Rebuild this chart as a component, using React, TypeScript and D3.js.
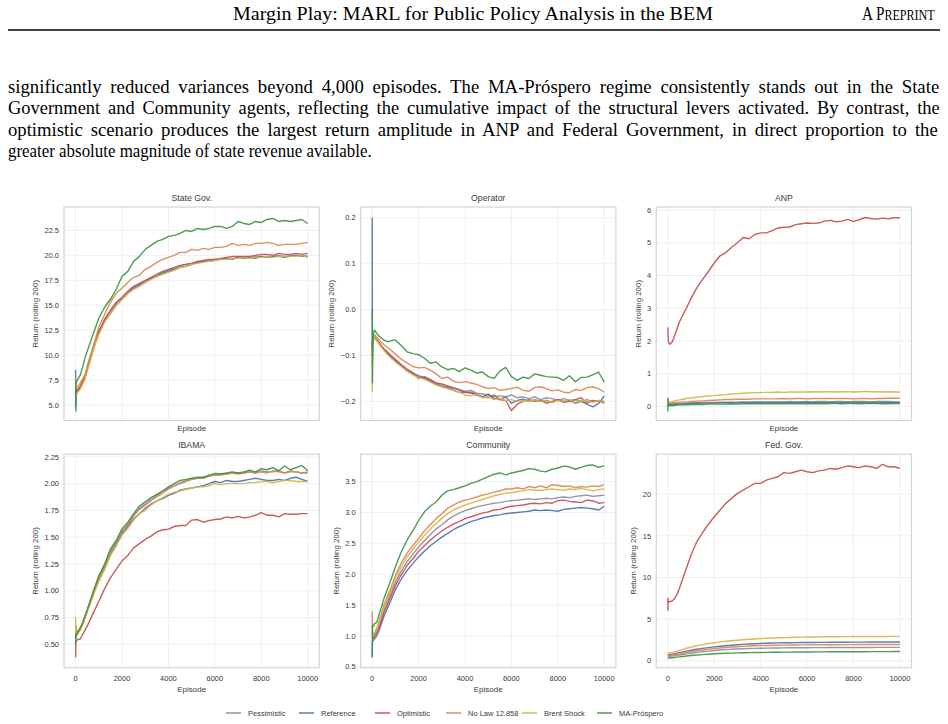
import React from 'react';
import * as d3 from 'd3';

// episodes at which each rolling return is sampled
const EPISODES = [
  0, 10, 30, 60, 100, 200, 300, 400, 500, 650, 800, 1000,
  1250, 1500, 1750, 2000, 2250, 2500, 2750, 3000, 3250, 3500, 3750, 4000,
  4250, 4500, 4750, 5000, 5250, 5500, 5750, 6000, 6250, 6500, 6750, 7000,
  7250, 7500, 7750, 8000, 8250, 8500, 8750, 9000, 9250, 9500, 9750, 10000,
];

const SCENARIOS = ['Pessimistic', 'Reference', 'Optimistic', 'No Law 12.858', 'Brent Shock', 'MA-Próspero'];
const COLORS = ['#8e8ca0', '#4c72b0', '#c44e52', '#dd8452', '#d6b445', '#3b9544'];
const X_TICKS = [0, 2000, 4000, 6000, 8000, 10000];

// series order in every panel follows SCENARIOS
const STATE_GOV: number[][] = [
  [6.3, 6.0, 6.2, 6.4, 6.5, 6.8, 7.3, 7.8, 8.6, 9.8, 11.0, 12.3,
   13.5, 14.4, 15.2, 15.7, 16.3, 16.8, 17.1, 17.4, 17.7, 18.0, 18.3, 18.5,
   18.7, 18.9, 19.1, 19.2, 19.3, 19.4, 19.5, 19.6, 19.6, 19.7, 19.7, 19.8,
   19.8, 19.8, 19.9, 19.9, 19.9, 19.9, 20.0, 19.9, 20.0, 20.0, 20.0, 19.9],
  [8.5, 4.4, 6.0, 6.3, 6.4, 6.7, 7.2, 7.7, 8.5, 9.7, 10.9, 12.2,
   13.4, 14.2, 15.0, 15.6, 16.2, 16.7, 17.0, 17.3, 17.7, 17.9, 18.2, 18.4,
   18.6, 18.8, 18.9, 19.1, 19.3, 19.4, 19.4, 19.5, 19.6, 19.7, 19.6, 19.8,
   19.7, 19.8, 19.7, 19.9, 19.8, 19.9, 19.9, 19.8, 19.9, 20.0, 19.9, 19.9],
  [6.6, 6.4, 6.3, 6.5, 6.6, 6.9, 7.4, 7.9, 8.7, 9.9, 11.1, 12.4,
   13.6, 14.5, 15.3, 15.8, 16.4, 16.9, 17.2, 17.5, 17.8, 18.1, 18.4, 18.6,
   18.8, 19.0, 19.1, 19.2, 19.4, 19.5, 19.6, 19.6, 19.7, 19.8, 19.9, 19.9,
   19.9, 19.9, 20.0, 20.1, 20.1, 20.0, 20.2, 20.1, 20.1, 20.2, 20.1, 20.2],
  [7.7, 6.6, 6.7, 6.8, 6.9, 7.2, 7.6, 8.0, 8.9, 10.1, 11.2, 12.8,
   14.1, 15.3, 16.2, 16.7, 17.3, 17.8, 18.0, 18.6, 18.9, 19.3, 19.6, 19.8,
   20.0, 20.3, 20.3, 20.6, 20.5, 20.7, 20.6, 20.8, 20.8, 20.9, 21.2, 21.0,
   21.1, 21.0, 21.2, 21.2, 21.3, 21.2, 21.0, 21.1, 21.1, 21.1, 21.2, 21.3],
  [5.9, 6.1, 6.0, 6.2, 6.3, 6.6, 7.1, 7.6, 8.4, 9.6, 10.8, 12.1,
   13.3, 14.2, 15.0, 15.6, 16.2, 16.6, 16.9, 17.3, 17.6, 17.9, 18.1, 18.3,
   18.5, 18.8, 18.9, 19.1, 19.2, 19.3, 19.4, 19.5, 19.6, 19.6, 19.7, 19.7,
   19.8, 19.7, 19.8, 19.8, 19.9, 19.8, 19.9, 19.9, 19.9, 19.9, 20.0, 19.8],
  [4.8, 7.3, 7.2, 7.4, 7.6, 8.0, 8.8, 9.7, 10.4, 11.4, 12.4, 13.7,
   14.8, 15.6, 16.6, 17.9, 18.4, 19.4, 19.9, 20.6, 21.0, 21.4, 21.6, 21.9,
   22.0, 22.2, 22.5, 22.4, 22.7, 22.6, 22.7, 22.9, 22.9, 22.7, 22.9, 23.4,
   23.2, 23.1, 23.4, 23.3, 23.6, 23.7, 23.4, 23.5, 23.4, 23.5, 23.6, 23.2],
];

const OPERATOR: number[][] = [
  [-0.09, -0.07, -0.065, -0.06, -0.062, -0.068, -0.074, -0.08, -0.086, -0.092, -0.1, -0.108,
   -0.12, -0.13, -0.138, -0.144, -0.148, -0.154, -0.16, -0.166, -0.168, -0.172, -0.174, -0.178,
   -0.176, -0.182, -0.184, -0.186, -0.19, -0.188, -0.19, -0.186, -0.192, -0.19, -0.194, -0.19,
   -0.196, -0.192, -0.194, -0.198, -0.194, -0.198, -0.196, -0.2, -0.196, -0.2, -0.198, -0.2],
  [0.2, -0.1, -0.07, -0.062, -0.06, -0.066, -0.073, -0.08, -0.087, -0.095, -0.103, -0.112,
   -0.122, -0.133, -0.14, -0.146, -0.15, -0.156, -0.163, -0.168, -0.17, -0.176, -0.18, -0.18,
   -0.182, -0.186, -0.19, -0.184, -0.194, -0.196, -0.19, -0.204, -0.198, -0.195, -0.2, -0.196,
   -0.2, -0.198, -0.202, -0.196, -0.2, -0.198, -0.204, -0.2, -0.206, -0.212, -0.205, -0.188],
  [-0.07, -0.085, -0.068, -0.062, -0.06, -0.066, -0.072, -0.079, -0.085, -0.093, -0.1, -0.11,
   -0.12, -0.13, -0.138, -0.15, -0.146, -0.152, -0.16, -0.162, -0.166, -0.17, -0.175, -0.18,
   -0.18, -0.184, -0.19, -0.192, -0.186, -0.196, -0.198, -0.22, -0.206, -0.2, -0.196, -0.2,
   -0.198, -0.204, -0.2, -0.196, -0.202, -0.2, -0.196, -0.192, -0.204, -0.198, -0.2, -0.203],
  [-0.12, -0.07, -0.06, -0.056, -0.055, -0.06, -0.066, -0.071, -0.076, -0.082, -0.088, -0.097,
   -0.108, -0.116, -0.124, -0.127, -0.126, -0.132, -0.14, -0.15, -0.147, -0.156, -0.159, -0.157,
   -0.16, -0.163, -0.168, -0.172, -0.17, -0.176, -0.174, -0.172, -0.169, -0.176, -0.178, -0.17,
   -0.168, -0.172, -0.177, -0.175, -0.18, -0.181, -0.174, -0.176, -0.17, -0.168, -0.172, -0.18],
  [-0.18, -0.08, -0.066, -0.06, -0.062, -0.068, -0.075, -0.082, -0.089, -0.097, -0.105, -0.114,
   -0.124, -0.134, -0.142, -0.148, -0.152, -0.158, -0.164, -0.168, -0.172, -0.176, -0.18, -0.186,
   -0.188, -0.184, -0.192, -0.19, -0.196, -0.194, -0.198, -0.196, -0.2, -0.198, -0.2, -0.196,
   -0.2, -0.198, -0.202, -0.198, -0.2, -0.196, -0.202, -0.198, -0.2, -0.202, -0.198, -0.205],
  [0.0, -0.16, -0.08, -0.05, -0.045, -0.052, -0.058, -0.062, -0.066, -0.07, -0.068, -0.066,
   -0.078, -0.092, -0.096, -0.098, -0.106, -0.117, -0.114, -0.125, -0.131, -0.128, -0.135, -0.127,
   -0.132, -0.138, -0.136, -0.146, -0.15, -0.134, -0.126, -0.146, -0.154, -0.147, -0.15, -0.14,
   -0.143, -0.146, -0.147, -0.148, -0.154, -0.144, -0.157, -0.148, -0.147, -0.142, -0.136, -0.158],
];

const ANP: number[][] = [
  [0.06, 0.05, 0.06, 0.07, 0.07, 0.08, 0.08, 0.09, 0.09, 0.1, 0.1, 0.11,
   0.11, 0.12, 0.12, 0.12, 0.13, 0.13, 0.13, 0.13, 0.14, 0.14, 0.14, 0.14,
   0.14, 0.14, 0.14, 0.14, 0.15, 0.14, 0.14, 0.15, 0.14, 0.15, 0.15, 0.14,
   0.15, 0.15, 0.14, 0.15, 0.15, 0.15, 0.14, 0.15, 0.15, 0.15, 0.14, 0.14],
  [0.04, 0.03, 0.04, 0.05, 0.05, 0.06, 0.06, 0.07, 0.07, 0.08, 0.08, 0.09,
   0.09, 0.1, 0.1, 0.1, 0.11, 0.11, 0.11, 0.11, 0.12, 0.11, 0.12, 0.12,
   0.12, 0.12, 0.12, 0.12, 0.12, 0.12, 0.13, 0.12, 0.12, 0.12, 0.12, 0.12,
   0.12, 0.12, 0.12, 0.12, 0.12, 0.12, 0.12, 0.12, 0.12, 0.12, 0.12, 0.11],
  [2.42, 2.15, 1.98, 1.92, 1.9, 1.98, 2.18, 2.38, 2.58, 2.8, 3.0, 3.3,
   3.62, 3.88, 4.12, 4.38, 4.6, 4.7, 4.86, 5.0, 5.16, 5.12, 5.25, 5.3,
   5.3, 5.37, 5.45, 5.47, 5.48, 5.55, 5.58, 5.6, 5.59, 5.6, 5.66, 5.68,
   5.64, 5.66, 5.71, 5.65, 5.7, 5.77, 5.74, 5.72, 5.75, 5.73, 5.76, 5.76],
  [0.1, 0.09, 0.09, 0.1, 0.1, 0.11, 0.12, 0.12, 0.13, 0.14, 0.14, 0.15,
   0.16, 0.17, 0.18, 0.19, 0.2, 0.21, 0.21, 0.22, 0.22, 0.22, 0.23, 0.23,
   0.23, 0.23, 0.23, 0.24, 0.23, 0.24, 0.24, 0.23, 0.24, 0.24, 0.24, 0.24,
   0.24, 0.24, 0.24, 0.23, 0.24, 0.24, 0.23, 0.24, 0.24, 0.25, 0.25, 0.25],
  [0.25, 0.05, 0.1, 0.12, 0.13, 0.15, 0.17, 0.19, 0.2, 0.22, 0.24, 0.26,
   0.28, 0.3, 0.32, 0.33, 0.35, 0.36, 0.38, 0.39, 0.4, 0.41, 0.42, 0.42,
   0.43, 0.43, 0.44, 0.43, 0.44, 0.44, 0.44, 0.44, 0.45, 0.44, 0.45, 0.45,
   0.44, 0.45, 0.45, 0.44, 0.45, 0.46, 0.45, 0.45, 0.44, 0.45, 0.44, 0.44],
  [-0.15, 0.25, 0.03, 0.02, 0.02, 0.03, 0.03, 0.04, 0.04, 0.05, 0.05, 0.06,
   0.06, 0.06, 0.07, 0.07, 0.07, 0.07, 0.08, 0.07, 0.08, 0.08, 0.08, 0.08,
   0.08, 0.09, 0.08, 0.08, 0.09, 0.08, 0.08, 0.09, 0.08, 0.09, 0.08, 0.09,
   0.09, 0.08, 0.09, 0.09, 0.08, 0.09, 0.09, 0.09, 0.08, 0.08, 0.09, 0.09],
];

const IBAMA: number[][] = [
  [0.55, 0.62, 0.6, 0.6, 0.62, 0.65, 0.7, 0.76, 0.82, 0.91, 1.0, 1.12,
   1.23, 1.36, 1.45, 1.55, 1.62, 1.7, 1.77, 1.81, 1.85, 1.89, 1.93, 1.96,
   1.98, 2.0, 2.02, 2.04, 2.05, 2.05, 2.07, 2.08, 2.09, 2.09, 2.1, 2.1,
   2.1, 2.11, 2.1, 2.12, 2.11, 2.11, 2.12, 2.1, 2.11, 2.11, 2.1, 2.1],
  [0.55, 0.6, 0.58, 0.6, 0.61, 0.64, 0.69, 0.75, 0.81, 0.9, 0.99, 1.1,
   1.21, 1.34, 1.43, 1.53, 1.6, 1.67, 1.72, 1.77, 1.81, 1.84, 1.86, 1.89,
   1.91, 1.94, 1.95, 1.96, 1.97, 1.98, 2.0, 2.02, 2.01, 2.03, 2.02, 2.02,
   2.03, 2.04, 2.05, 2.04, 2.03, 2.03, 2.04, 2.03, 2.05, 2.06, 2.04, 2.02],
  [0.38, 0.53, 0.53, 0.54, 0.545, 0.55, 0.59, 0.63, 0.67, 0.74, 0.81, 0.9,
   1.02, 1.12, 1.2, 1.28, 1.33, 1.4, 1.44, 1.48, 1.51, 1.55, 1.57, 1.575,
   1.6, 1.61, 1.61, 1.66, 1.665, 1.64, 1.655, 1.665, 1.67, 1.69, 1.68, 1.695,
   1.68, 1.69, 1.705, 1.73, 1.705, 1.705, 1.69, 1.72, 1.715, 1.715, 1.72, 1.72],
  [0.6, 0.68, 0.62, 0.6, 0.62, 0.65, 0.7, 0.76, 0.82, 0.92, 1.01, 1.13,
   1.24, 1.37, 1.46, 1.56, 1.62, 1.7, 1.76, 1.8, 1.84, 1.88, 1.91, 1.95,
   1.98, 2.01, 2.03, 2.04, 2.05, 2.06, 2.07, 2.08, 2.08, 2.09, 2.1, 2.09,
   2.1, 2.11, 2.1, 2.11, 2.1, 2.12, 2.11, 2.1, 2.12, 2.11, 2.1, 2.11],
  [0.75, 0.62, 0.58, 0.59, 0.6, 0.63, 0.68, 0.74, 0.8, 0.89, 0.98, 1.09,
   1.2, 1.33, 1.42, 1.52, 1.58, 1.66, 1.72, 1.75, 1.8, 1.84, 1.87, 1.9,
   1.92, 1.93, 1.95, 1.96, 1.97, 1.97, 1.98, 2.0, 1.99, 2.0, 2.0, 2.0,
   2.0, 2.01, 2.01, 2.02, 2.02, 2.01, 2.02, 2.03, 2.03, 2.02, 2.02, 2.02],
  [0.5, 0.6, 0.58, 0.6, 0.62, 0.65, 0.7, 0.76, 0.82, 0.92, 1.02, 1.14,
   1.25, 1.39, 1.47, 1.58, 1.64, 1.72, 1.79, 1.83, 1.87, 1.9, 1.93, 1.97,
   2.0, 2.03, 2.04, 2.05, 2.06, 2.06, 2.08, 2.095, 2.09, 2.1, 2.11, 2.1,
   2.11, 2.125, 2.11, 2.14, 2.13, 2.15, 2.12, 2.165, 2.13, 2.15, 2.17, 2.12],
];

const COMMUNITY: number[][] = [
  [0.95, 0.95, 0.97, 0.99, 1.01, 1.07, 1.17, 1.29, 1.41, 1.55, 1.69, 1.87,
   2.05, 2.2, 2.32, 2.44, 2.54, 2.64, 2.73, 2.8, 2.88, 2.94, 2.99, 3.03,
   3.06, 3.09, 3.11, 3.13, 3.15, 3.16, 3.18, 3.19, 3.2, 3.21, 3.22, 3.21,
   3.22, 3.23, 3.22, 3.24, 3.25, 3.24, 3.26, 3.27, 3.28, 3.26, 3.27, 3.28],
  [0.65, 0.9, 0.92, 0.93, 0.95, 1.0, 1.09, 1.2, 1.31, 1.44, 1.57, 1.75,
   1.92, 2.06, 2.17, 2.28, 2.37, 2.46, 2.53, 2.6, 2.66, 2.72, 2.77, 2.81,
   2.85, 2.88, 2.91, 2.93, 2.95, 2.96, 2.98, 2.99, 3.0, 3.01, 3.02, 3.04,
   3.03, 3.04, 3.03, 3.02, 3.05, 3.06, 3.07, 3.08, 3.07, 3.06, 3.04, 3.1],
  [0.92, 0.93, 0.95, 0.97, 0.99, 1.05, 1.14, 1.25, 1.37, 1.5, 1.64, 1.82,
   1.99, 2.14, 2.25, 2.37, 2.46, 2.55, 2.63, 2.7, 2.76, 2.81, 2.85, 2.9,
   2.93, 2.96, 2.99, 3.01, 3.04, 3.05, 3.08, 3.1, 3.11, 3.12, 3.14, 3.15,
   3.14, 3.16, 3.15, 3.19, 3.2, 3.18, 3.17, 3.16, 3.2, 3.19, 3.15, 3.16],
  [1.4, 1.0, 1.02, 1.03, 1.05, 1.12, 1.24, 1.36, 1.5, 1.64, 1.78, 1.98,
   2.18, 2.34, 2.46, 2.58, 2.7, 2.8, 2.9, 2.98, 3.07, 3.12, 3.17, 3.2,
   3.22, 3.25, 3.28, 3.3, 3.33, 3.35, 3.38, 3.38, 3.4, 3.38, 3.42, 3.4,
   3.43, 3.4, 3.45, 3.44, 3.42, 3.43, 3.4, 3.42, 3.41, 3.43, 3.42, 3.45],
  [1.0, 0.98, 1.0, 1.01, 1.03, 1.1, 1.21, 1.33, 1.46, 1.6, 1.74, 1.93,
   2.12, 2.28, 2.4, 2.52, 2.63, 2.73, 2.82, 2.9, 2.98, 3.04, 3.08, 3.12,
   3.15, 3.18, 3.21, 3.24, 3.27, 3.29, 3.31, 3.32, 3.34, 3.35, 3.37, 3.36,
   3.36, 3.37, 3.38, 3.37, 3.36, 3.38, 3.37, 3.39, 3.37, 3.35, 3.37, 3.38],
  [0.66, 1.15, 1.17, 1.16, 1.2, 1.22, 1.35, 1.47, 1.6, 1.75, 1.9, 2.12,
   2.36, 2.55, 2.7, 2.87, 3.01, 3.1, 3.17, 3.28, 3.35, 3.37, 3.4, 3.43,
   3.47, 3.5, 3.54, 3.58, 3.62, 3.64, 3.61, 3.64, 3.66, 3.68, 3.71, 3.7,
   3.67, 3.66, 3.7, 3.72, 3.75, 3.74, 3.7, 3.73, 3.76, 3.77, 3.73, 3.76],
];

const FED_GOV: number[][] = [
  [0.5, 0.5, 0.51, 0.52, 0.53, 0.56, 0.6, 0.65, 0.69, 0.75, 0.82, 0.9,
   1.0, 1.08, 1.15, 1.22, 1.28, 1.33, 1.37, 1.41, 1.44, 1.46, 1.48, 1.5,
   1.51, 1.52, 1.53, 1.54, 1.55, 1.55, 1.56, 1.56, 1.57, 1.57, 1.57, 1.58,
   1.58, 1.58, 1.58, 1.59, 1.59, 1.59, 1.59, 1.6, 1.6, 1.6, 1.6, 1.6],
  [0.7, 0.7, 0.71, 0.72, 0.74, 0.78, 0.84, 0.91, 0.97, 1.06, 1.15, 1.26,
   1.38, 1.48, 1.57, 1.66, 1.74, 1.8, 1.86, 1.91, 1.96, 2.0, 2.04, 2.07,
   2.1, 2.12, 2.14, 2.15, 2.16, 2.17, 2.18, 2.18, 2.19, 2.2, 2.2, 2.21,
   2.21, 2.22, 2.22, 2.23, 2.23, 2.23, 2.24, 2.24, 2.24, 2.25, 2.25, 2.25],
  [6.0, 7.5, 7.0, 7.1, 7.1, 7.2, 7.5, 8.0, 8.7, 9.9, 11.1, 12.7,
   14.3, 15.4, 16.4, 17.3, 18.1, 18.9, 19.5, 20.1, 20.5, 20.9, 21.3, 21.3,
   21.7, 21.9, 22.1, 22.6, 22.5, 22.7, 22.9, 22.7, 22.6, 22.8, 22.9, 23.1,
   23.0, 23.2, 23.4, 23.3, 23.2, 23.4, 23.3, 23.1, 23.6, 23.3, 23.3, 23.1],
  [0.6, 0.6, 0.61, 0.62, 0.63, 0.67, 0.72, 0.77, 0.82, 0.9, 0.98, 1.08,
   1.19, 1.28, 1.37, 1.46, 1.53, 1.59, 1.64, 1.68, 1.72, 1.76, 1.79, 1.81,
   1.83, 1.85, 1.86, 1.87, 1.88, 1.89, 1.9, 1.9, 1.91, 1.91, 1.92, 1.92,
   1.92, 1.93, 1.93, 1.93, 1.94, 1.94, 1.94, 1.94, 1.95, 1.95, 1.95, 1.95],
  [0.9, 0.9, 0.91, 0.93, 0.95, 1.0, 1.08, 1.17, 1.25, 1.37, 1.5, 1.64,
   1.8, 1.93, 2.05, 2.16, 2.26, 2.33, 2.4, 2.46, 2.52, 2.57, 2.61, 2.65,
   2.69, 2.72, 2.75, 2.77, 2.79, 2.81, 2.83, 2.84, 2.85, 2.86, 2.87, 2.88,
   2.88, 2.89, 2.89, 2.9, 2.9, 2.9, 2.91, 2.91, 2.91, 2.91, 2.92, 2.92],
  [0.3, 0.3, 0.31, 0.32, 0.33, 0.36, 0.39, 0.43, 0.46, 0.51, 0.56, 0.62,
   0.68, 0.73, 0.78, 0.83, 0.86, 0.89, 0.91, 0.94, 0.95, 0.97, 0.98, 0.99,
   1.0, 1.01, 1.02, 1.03, 1.03, 1.04, 1.04, 1.05, 1.05, 1.06, 1.06, 1.07,
   1.07, 1.07, 1.08, 1.08, 1.08, 1.08, 1.09, 1.09, 1.09, 1.09, 1.1, 1.1],
];

const PARAGRAPH = [
  'significantly reduced variances beyond 4,000 episodes. The MA-Próspero regime consistently stands out in the State',
  'Government and Community agents, reflecting the cumulative impact of the structural levers activated. By contrast, the',
  'optimistic scenario produces the largest return amplitude in ANP and Federal Government, in direct proportion to the',
  'greater absolute magnitude of state revenue available.',
];

const SANS = '"Liberation Sans", Arial, Helvetica, sans-serif';
const SERIF = '"Liberation Serif", "Times New Roman", Times, serif';
const TEXT = '#3a3a3a';

const PW = 255.3;
const PH = 213.5;
const COL_X = [64, 360.6, 656.2];
const ROW_Y = [207, 454.2];

// paragraph box: left edge, justified width, width of the last (ragged) line
const PARA_X = 8;
const PARA_W = 932;
const LAST_W = 364;
const PARA_SIZE = 19;

const range = (a: number, b: number, s: number) => d3.range(a, b + s / 2, s);

// measure text with a canvas so the paragraph can be justified
let measureCtx: CanvasRenderingContext2D | null = null;
function measure(text: string, font: string): number {
  if (!measureCtx && typeof document !== 'undefined') {
    measureCtx = document.createElement('canvas').getContext('2d');
  }
  if (!measureCtx) return text.length * 8.5;
  measureCtx.font = font;
  return measureCtx.measureText(text).width;
}

interface PanelDef {
  title: string;
  data: number[][];
  yDomain: [number, number];
  yTicks: number[];
  fmt: (v: number) => string;
  col: number;
  row: number;
}

const PANELS: PanelDef[] = [
  { title: 'State Gov.', data: STATE_GOV, yDomain: [3.45, 24.85], yTicks: range(5, 22.5, 2.5), fmt: d3.format('.1f'), col: 0, row: 0 },
  { title: 'Operator', data: OPERATOR, yDomain: [-0.2416, 0.2235], yTicks: range(-0.2, 0.2, 0.1), fmt: d3.format('.1f'), col: 1, row: 0 },
  { title: 'ANP', data: ANP, yDomain: [-0.43, 6.09], yTicks: range(0, 6, 1), fmt: d3.format('d'), col: 2, row: 0 },
  { title: 'IBAMA', data: IBAMA, yDomain: [0.282, 2.275], yTicks: range(0.5, 2.25, 0.25), fmt: d3.format('.2f'), col: 0, row: 1 },
  { title: 'Community', data: COMMUNITY, yDomain: [0.484, 3.944], yTicks: range(0.5, 3.5, 0.5), fmt: d3.format('.1f'), col: 1, row: 1 },
  { title: 'Fed. Gov.', data: FED_GOV, yDomain: [-0.84, 24.81], yTicks: range(0, 20, 5), fmt: d3.format('d'), col: 2, row: 1 },
];

// rough width of a tick label at 7.5px, used to place the y label
const labelWidth = (s: string) =>
  d3.sum(s.split(''), (c) => (c === '.' ? 2.1 : c === '−' ? 4.4 : 4.2));

function Panel({ p }: { p: PanelDef }) {
  const left = COL_X[p.col];
  const top = ROW_Y[p.row];
  const bottom = top + PH;
  const x = d3.scaleLinear().domain([-500, 10500]).range([left, left + PW]);
  const y = d3.scaleLinear().domain(p.yDomain).range([bottom, top]);
  const line = d3
    .line<number>()
    .x((_, i) => x(EPISODES[i]))
    .y((d) => y(d));
  const maxW = d3.max(p.yTicks, (t) => labelWidth(p.fmt(t))) as number;
  const yLabelX = left - 5 - maxW - 9;
  const isBottom = p.row === 1;

  return (
    <g>
      <rect x={left} y={top} width={PW} height={PH} fill="#fff" />
      {X_TICKS.map((t) => (
        <line key={'gx' + t} x1={x(t)} x2={x(t)} y1={top} y2={bottom} stroke="#ececec" strokeWidth={0.8} />
      ))}
      {p.yTicks.map((t) => (
        <line key={'gy' + t} x1={left} x2={left + PW} y1={y(t)} y2={y(t)} stroke="#ececec" strokeWidth={0.8} />
      ))}
      {p.data.map((s, i) => (
        <path
          key={SCENARIOS[i]}
          d={line(s) as string}
          fill="none"
          stroke={COLORS[i]}
          strokeWidth={1.4}
          strokeOpacity={0.92}
          strokeLinejoin="round"
        />
      ))}
      <rect x={left} y={top} width={PW} height={PH} fill="none" stroke="#d4d4d4" strokeWidth={1.2} />
      <text x={left + PW / 2} y={top - 6} textAnchor="middle" fontSize={8.7} fill={TEXT}>
        {p.title}
      </text>
      {p.yTicks.map((t) => (
        <text key={'ty' + t} x={left - 5} y={y(t) + 2.7} textAnchor="end" fontSize={7.5} fill={TEXT}>
          {p.fmt(t)}
        </text>
      ))}
      {isBottom &&
        X_TICKS.map((t) => (
          <text key={'tx' + t} x={x(t)} y={bottom + 13.4} textAnchor="middle" fontSize={7.5} fill={TEXT}>
            {t}
          </text>
        ))}
      <text x={left + PW / 2} y={isBottom ? bottom + 24 : bottom + 10} textAnchor="middle" fontSize={8} fill={TEXT}>
        Episode
      </text>
      <text
        x={yLabelX}
        y={top + PH / 2}
        textAnchor="middle"
        dominantBaseline="central"
        fontSize={7.9}
        fill={TEXT}
        transform={`rotate(-90, ${yLabelX}, ${top + PH / 2})`}
      >
        Return (rolling 200)
      </text>
    </g>
  );
}

function Paragraph() {
  const font = `${PARA_SIZE}px ${SERIF}`;
  const last = PARAGRAPH[PARAGRAPH.length - 1];
  // condensed body face; justified lines take part of the slack in the glyphs
  const squeeze = LAST_W / measure(last, font);
  return (
    <g>
      {PARAGRAPH.map((l, i) => {
        const isLast = i === PARAGRAPH.length - 1;
        const spaces = l.split(' ').length - 1;
        const natural = measure(l, font);
        const fit = PARA_W / natural;
        const sx = isLast ? squeeze : squeeze + (fit - squeeze) * 0.6;
        const ws = isLast ? 0 : (PARA_W / sx - natural) / spaces;
        return (
          <text
            key={i}
            transform={`translate(${PARA_X}, ${92.5 + i * 21.5}) scale(${sx}, 1)`}
            fontFamily={SERIF}
            fontSize={PARA_SIZE}
            fill="#000"
            wordSpacing={ws}
          >
            {l}
          </text>
        );
      })}
    </g>
  );
}

const LEGEND_X = [226, 299, 375, 446, 522, 597];

export default function App() {
  return (
    <svg
      width={948}
      height={724}
      style={{ position: 'absolute', left: 0, top: 0, display: 'block', background: '#fff' }}
      fontFamily={SANS}
    >
      {/* running header */}
      <text x={233} y={20} fontFamily={SERIF} fontSize={19.5} fill="#000" textLength={480} lengthAdjust="spacingAndGlyphs">
        Margin Play: MARL for Public Policy Analysis in the BEM
      </text>
      <text transform="translate(862, 20) scale(0.78, 1)" fontFamily={SERIF} fill="#000">
        <tspan fontSize={19.5}>A P</tspan>
        <tspan fontSize={15.5}>REPRINT</tspan>
      </text>
      <line x1={8} x2={940} y1={30} y2={30} stroke="#000" strokeWidth={1.3} />

      <Paragraph />

      {PANELS.map((p) => (
        <Panel key={p.title} p={p} />
      ))}

      {SCENARIOS.map((s, i) => (
        <g key={s}>
          <line x1={LEGEND_X[i]} x2={LEGEND_X[i] + 15} y1={713} y2={713} stroke={COLORS[i]} strokeWidth={1.4} />
          <text x={LEGEND_X[i] + 22} y={715.7} fontSize={7.5} fill={TEXT}>
            {s}
          </text>
        </g>
      ))}
    </svg>
  );
}
